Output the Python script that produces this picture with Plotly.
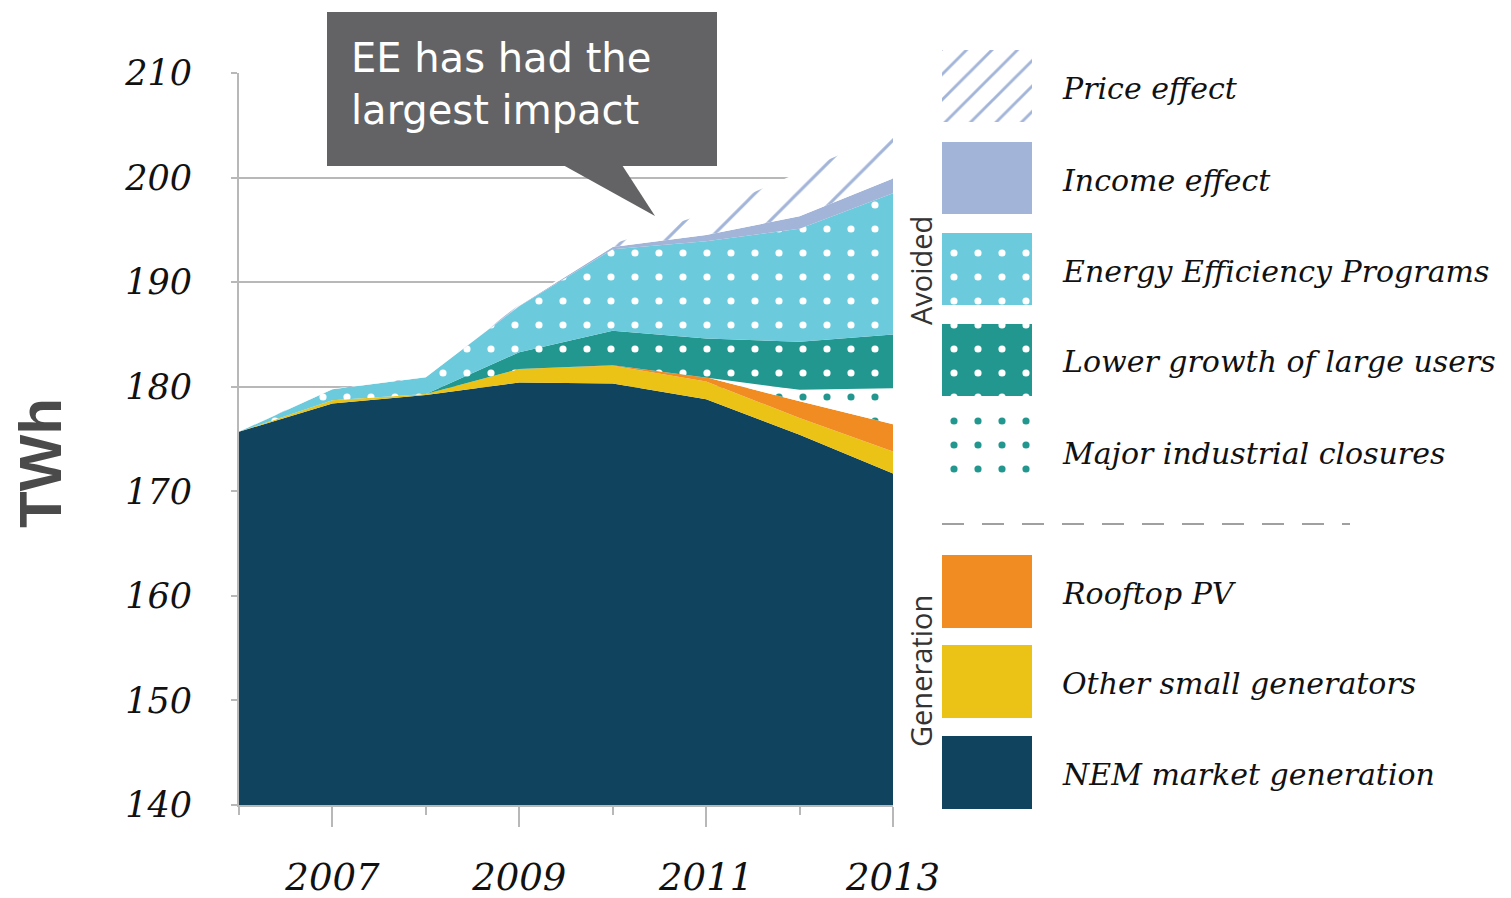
import plotly.graph_objects as go

W, H = 1511, 898

# ---------------- data (TWh, stacked increments) ----------------
years = [2006, 2007, 2008, 2009, 2010, 2011, 2012, 2013]
nem_market_generation = [175.7, 178.4, 179.2, 180.4, 180.3, 178.8, 175.4, 171.7]
other_small_generators = [0.0, 0.3, 0.1, 1.3, 1.7, 1.7, 1.6, 2.1]
rooftop_pv = [0.0, 0.0, 0.0, 0.0, 0.05, 0.4, 1.6, 2.6]
major_industrial_closures = [0.0, 0.0, 0.0, 0.0, 0.0, 0.0, 1.1, 3.45]
lower_growth_large_users = [0.0, 0.0, 0.0, 1.6, 3.3, 3.7, 4.6, 5.15]
energy_efficiency_programs = [0.0, 1.05, 1.6, 4.4, 7.8, 9.3, 10.8, 13.5]
income_effect = [0.0, 0.0, 0.0, 0.05, 0.2, 0.6, 1.2, 1.4]
price_effect = [0.0, 0.05, 0.05, 0.1, 0.3, 2.1, 4.2, 4.5]

x_tick_labels = ["2007", "2009", "2011", "2013"]
x_tick_years = [2007, 2009, 2011, 2013]
x_minor_years = [2006, 2008, 2010, 2012]
y_ticks = [140, 150, 160, 170, 180, 190, 200, 210]

legend_labels = ["Price effect", "Income effect", "Energy Efficiency Programs",
                 "Lower growth of large users", "Major industrial closures",
                 "Rooftop PV", "Other small generators", "NEM market generation"]

# ---------------- styles ----------------
NAVY = "#10435E"
YELLOW = "#EBC316"
ORANGE = "#F18C22"
TEAL = "#22978F"
LIGHTBLUE = "#6BCADB"
LAVENDER = "#A2B4D8"
GRID = "#B8B8B8"

def solid(c):
    return dict(fillcolor=c)

def dots(fg, bg, size=24):
    return dict(fillcolor=bg, fillpattern=dict(shape=".", fgcolor=fg, bgcolor=bg,
                                               size=size, solidity=0.07, fillmode="replace"))

def hatch(fg, size, sol):
    return dict(fillcolor="white", fillpattern=dict(shape="/", fgcolor=fg, bgcolor="white",
                                                    size=size, solidity=sol, fillmode="replace"))

layers = [
    ("NEM market generation", nem_market_generation, solid(NAVY)),
    ("Other small generators", other_small_generators, solid(YELLOW)),
    ("Rooftop PV", rooftop_pv, solid(ORANGE)),
    ("Major industrial closures", major_industrial_closures, dots(TEAL, "white")),
    ("Lower growth of large users", lower_growth_large_users, dots("white", TEAL)),
    ("Energy Efficiency Programs", energy_efficiency_programs, dots("white", LIGHTBLUE)),
    ("Income effect", income_effect, solid(LAVENDER)),
    ("Price effect", price_effect, hatch(LAVENDER, 30, 0.1)),
]

fig = go.Figure()
for name, vals, style in layers:
    fig.add_trace(go.Scatter(x=years, y=vals, name=name, stackgroup="one", mode="lines",
                             line=dict(width=0), hoverinfo="skip", showlegend=False, **style))

# ---------------- legend swatches (own axes, pixel units) ----------------
swatch_styles = {
    "Price effect": hatch(LAVENDER, 18, 0.16),
    "Income effect": solid(LAVENDER),
    "Energy Efficiency Programs": dots("white", LIGHTBLUE),
    "Lower growth of large users": dots("white", TEAL),
    "Major industrial closures": dots(TEAL, "white"),
    "Rooftop PV": solid(ORANGE),
    "Other small generators": solid(YELLOW),
    "NEM market generation": solid(NAVY),
}
swatch_rows = [(50, 122), (142, 214), (233, 305), (324, 396), (415, 487),
               (555, 628), (645, 718), (736, 809)]
for lab, (t, b) in zip(legend_labels, swatch_rows):
    fig.add_trace(go.Scatter(x=[0, 1, 1, 0, 0], y=[t, t, b, b, t], fill="toself", mode="lines",
                             line=dict(width=0), hoverinfo="skip", showlegend=False,
                             xaxis="x2", yaxis="y2", **swatch_styles[lab]))

serif_it = dict(family="DejaVu Serif", style="italic", color="#111111")

fig.update_layout(
    width=W, height=H, margin=dict(l=0, r=0, t=0, b=0),
    paper_bgcolor="white", plot_bgcolor="white",
    xaxis=dict(domain=[239 / W, 893 / W], range=[2006, 2013], showgrid=False, zeroline=False,
               showline=True, linecolor=GRID, linewidth=2,
               tickmode="array", tickvals=x_tick_years, ticktext=x_tick_labels,
               ticks="outside", ticklen=20, tickwidth=2, tickcolor=GRID,
               ticklabelstandoff=19, tickfont=dict(size=37, **serif_it),
               minor=dict(tickmode="array", tickvals=x_minor_years, ticks="outside",
                          ticklen=8, tickwidth=2, tickcolor=GRID),
               automargin=False, fixedrange=True),
    yaxis=dict(domain=[1 - 805 / H, 1 - 73 / H], range=[140, 210], tickvals=y_ticks,
               showgrid=True, gridcolor=GRID, gridwidth=2, zeroline=False,
               showline=True, linecolor=GRID, linewidth=2,
               ticks="outside", ticklen=6, tickwidth=2, tickcolor=GRID,
               ticklabelstandoff=32, tickfont=dict(size=35, **serif_it),
               automargin=False, fixedrange=True),
    xaxis2=dict(domain=[942 / W, 1032 / W], range=[0, 1], visible=False, anchor="y2",
                fixedrange=True),
    yaxis2=dict(domain=[1 - 810 / H, 1 - 49 / H], range=[810, 49], visible=False, anchor="x2",
                fixedrange=True),
)

def px(x):
    return x / W

def py(y):
    return 1 - y / H

# callout box and pointer
fig.add_shape(type="rect", xref="paper", yref="paper", x0=px(327), x1=px(717), y0=py(166), y1=py(12),
              fillcolor="#636365", line=dict(width=0), layer="above")
fig.add_shape(type="path", xref="paper", yref="paper",
              path="M {},{} L {},{} L {},{} Z".format(px(563), py(165), px(622), py(165), px(655), py(216)),
              fillcolor="#636365", line=dict(width=0), layer="above")
fig.add_annotation(xref="paper", yref="paper", x=px(349), y=py(84), xanchor="left", yanchor="middle",
                   text="EE has had the<br>largest impact", showarrow=False, align="left",
                   font=dict(family="DejaVu Sans", size=40, color="white"))

# y axis title
fig.add_annotation(xref="paper", yref="paper", x=px(41), y=py(463), xanchor="center", yanchor="middle",
                   text="<b>TWh</b>", textangle=-90,
                   showarrow=False, font=dict(family="Liberation Sans", size=60, color="#4A4A4A"))

# group labels
fig.add_annotation(xref="paper", yref="paper", x=px(920), y=py(270), xanchor="center", yanchor="middle",
                   text="Avoided", textangle=-90,
                   showarrow=False, font=dict(family="Open Sans", size=29, color="#333333"))
fig.add_annotation(xref="paper", yref="paper", x=px(920), y=py(671), xanchor="center", yanchor="middle",
                   text="Generation", textangle=-90,
                   showarrow=False, font=dict(family="Open Sans", size=29, color="#333333"))

# dashed separator
fig.add_shape(type="line", xref="paper", yref="paper", x0=px(942), x1=px(1350), y0=py(524), y1=py(524),
              line=dict(color="#A0A0A0", width=2, dash="22px,18px"))

# legend labels
for lab, (t, b) in zip(legend_labels, swatch_rows):
    fig.add_annotation(xref="paper", yref="paper", x=px(1060), y=py((t + b) / 2 + 2), xanchor="left",
                       yanchor="middle", text=lab, showarrow=False,
                       font=dict(size=30, **serif_it))

fig.write_html("out.html", post_script="document.body.style.margin='0';",
               config={"displayModeBar": False})
